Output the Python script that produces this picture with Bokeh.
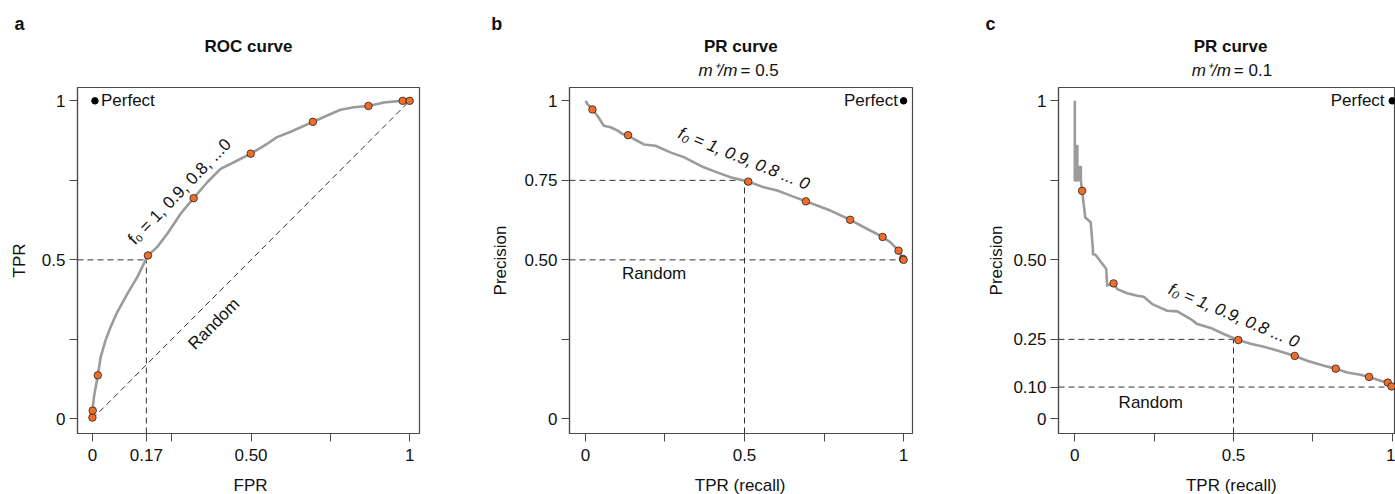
import math
from bokeh.plotting import figure
from bokeh.models import Range1d, FixedTicker, Label
from bokeh.layouts import row, column
from bokeh.embed import file_html
from bokeh.resources import INLINE

FONT = "Liberation Sans"
ORANGE = "#F26D2A"
GREY = "#9b9b9b"
FRAME = "#4a4a4a"
DASH = "#333333"
TXT = "#111111"

# ---------------- data: panel a (ROC) ----------------
roc_curve_fpr = [0.0, 0.0, 0.005, 0.017, 0.026, 0.041, 0.057, 0.078, 0.11, 0.141, 0.175,
                 0.204, 0.236, 0.278, 0.319, 0.362, 0.404, 0.446, 0.499, 0.551, 0.582,
                 0.625, 0.695, 0.74, 0.782, 0.824, 0.870, 0.919, 0.972, 0.978, 1.0]
roc_curve_tpr = [0.0, 0.026, 0.07, 0.137, 0.194, 0.246, 0.288, 0.335, 0.393, 0.445, 0.514,
                 0.54, 0.582, 0.645, 0.694, 0.744, 0.786, 0.807, 0.834, 0.865, 0.886,
                 0.903, 0.934, 0.954, 0.972, 0.98, 0.984, 0.995, 1.0, 1.0, 1.0]
roc_pts_fpr = [0.0, 0.001, 0.017, 0.175, 0.319, 0.499, 0.695, 0.870, 0.978, 1.0]
roc_pts_tpr = [0.004, 0.026, 0.137, 0.514, 0.694, 0.834, 0.934, 0.984, 1.0, 1.0]
roc_x_ticks = [0, 0.17, 0.5, 1]
roc_x_labels = ["0", "0.17", "0.50", "1"]
roc_x_minor = [0.25, 0.75]
roc_y_ticks = [0, 0.5, 1]
roc_y_labels = ["0", "0.5", "1"]
roc_y_minor = [0.25, 0.75]

# ---------------- data: panel b (PR, m+/m = 0.5) ----------------
prb_curve_rec = [0.001, 0.006, 0.012, 0.022, 0.037, 0.058, 0.079, 0.1, 0.116, 0.134, 0.152,
                 0.184, 0.22, 0.267, 0.309, 0.372, 0.414, 0.456, 0.512, 0.561, 0.603,
                 0.645, 0.693, 0.728, 0.77, 0.832, 0.886, 0.934, 0.959, 0.984, 0.998, 1.0]
prb_curve_prec = [1.0, 0.99, 0.985, 0.973, 0.954, 0.922, 0.917, 0.907, 0.896, 0.892, 0.88,
                  0.863, 0.859, 0.838, 0.823, 0.791, 0.775, 0.76, 0.746, 0.728, 0.718,
                  0.702, 0.684, 0.671, 0.655, 0.626, 0.597, 0.572, 0.555, 0.529, 0.503, 0.5]
prb_pts_rec = [0.022, 0.134, 0.512, 0.693, 0.832, 0.934, 0.984, 0.998, 1.0]
prb_pts_prec = [0.973, 0.892, 0.746, 0.684, 0.626, 0.572, 0.529, 0.503, 0.5]
prb_y_ticks = [0, 0.5, 0.75, 1]
prb_y_labels = ["0", "0.50", "0.75", "1"]
prb_y_minor = [0.25]

# ---------------- data: panel c (PR, m+/m = 0.1) ----------------
prc_curve_rec = [0.0, 0.0, 0.004, 0.004, 0.008, 0.008, 0.011, 0.011, 0.019, 0.019, 0.023,
                 0.033, 0.05, 0.057, 0.057, 0.065, 0.099, 0.102, 0.122, 0.134, 0.165,
                 0.197, 0.217, 0.244, 0.291, 0.323, 0.365, 0.386, 0.428, 0.469, 0.515,
                 0.554, 0.596, 0.648, 0.693, 0.732, 0.785, 0.822, 0.858, 0.9, 0.927,
                 0.963, 0.986, 0.998, 1.0]
prc_curve_prec = [1.0, 0.75, 0.75, 0.858, 0.858, 0.75, 0.75, 0.792, 0.792, 0.75, 0.717,
                  0.633, 0.618, 0.534, 0.518, 0.516, 0.471, 0.419, 0.426, 0.408, 0.395,
                  0.387, 0.384, 0.361, 0.34, 0.338, 0.314, 0.298, 0.286, 0.267, 0.248,
                  0.236, 0.227, 0.212, 0.198, 0.183, 0.167, 0.158, 0.146, 0.139, 0.132,
                  0.12, 0.114, 0.102, 0.1]
prc_pts_rec = [0.023, 0.122, 0.515, 0.693, 0.822, 0.927, 0.986, 0.998]
prc_pts_prec = [0.717, 0.426, 0.248, 0.198, 0.158, 0.132, 0.114, 0.102]
prc_y_ticks = [0, 0.1, 0.25, 0.5, 1]
prc_y_labels = ["0", "0.10", "0.25", "0.50", "1"]
prc_y_minor = [0.75]

pr_x_ticks = [0, 0.5, 1]
pr_x_labels = ["0", "0.5", "1"]
pr_x_minor = [0.25, 0.75]

Y_RANGE = (-0.046, 1.042)
W = 1395
TOP_H = 86          # header strip
MID_TOP, FRAME_H, MID_BOT = 1, 346, 37
MID_H = MID_TOP + FRAME_H + MID_BOT
BOT_H = 494 - TOP_H - MID_H


def lab(p, x, y, text, size="17px", style="normal", align="left",
        baseline="middle", angle=0.0):
    p.add_layout(Label(x=x, y=y, text=text, text_font=FONT, text_font_size=size,
                       text_font_style=style, text_align=align,
                       text_baseline=baseline, angle=angle, text_color=TXT))


def blank(x0, x1, y_top, y_bot):
    """A text-only strip whose data coordinates equal page pixels."""
    p = figure(frame_width=int(x1 - x0), frame_height=int(y_bot - y_top),
               x_range=Range1d(x0, x1), y_range=Range1d(y_bot, y_top),
               x_axis_type=None, y_axis_type=None, min_border=0,
               output_backend="svg", toolbar_location=None)
    p.outline_line_color = None
    p.grid.visible = False
    return p


def make_fig(xr, fw, left, right):
    p = figure(frame_width=fw, frame_height=FRAME_H,
               x_range=Range1d(*xr), y_range=Range1d(*Y_RANGE),
               min_border_left=left, min_border_right=right,
               min_border_top=MID_TOP, min_border_bottom=MID_BOT,
               output_backend="svg", toolbar_location=None)
    p.grid.visible = False
    p.outline_line_color = FRAME
    p.outline_line_width = 1.2
    return p


def style_axis(ax, ticks, labels, minor, standoff):
    ax.ticker = FixedTicker(ticks=ticks, minor_ticks=minor)
    ax.major_label_overrides = {t: l for t, l in zip(ticks, labels)}
    ax.axis_line_color = FRAME
    ax.axis_line_width = 1.2
    ax.major_tick_line_color = FRAME
    ax.minor_tick_line_color = FRAME
    ax.major_tick_out = 8
    ax.major_tick_in = 0
    ax.minor_tick_out = 8
    ax.minor_tick_in = 0
    ax.major_label_text_font = FONT
    ax.major_label_text_font_size = "17px"
    ax.major_label_text_color = TXT
    ax.major_label_standoff = standoff


def dashed(p, xs, ys):
    p.line(xs, ys, line_color=DASH, line_width=1, line_dash="6 4")


def curve(p, xs, ys, px, py):
    p.line(xs, ys, line_color=GREY, line_width=2.6, line_join="round")
    p.scatter(px, py, size=7.5, fill_color=ORANGE, line_color="#222222",
              line_width=0.8)


# ---------------- header strip ----------------
head = blank(0, W, 0, TOP_H)
lab(head, 14, 23.1, "a", size="18px", style="bold")
lab(head, 490.7, 23.1, "b", size="18px", style="bold")
lab(head, 985, 23.1, "c", size="18px", style="bold")
lab(head, 248, 46.2, "ROC curve", style="bold", align="center")
lab(head, 740.3, 46.2, "PR curve", style="bold", align="center")
lab(head, 1230, 46.2, "PR curve", style="bold", align="center")
lab(head, 737, 69.9, "m\u207a/m", style="italic", align="right")
lab(head, 740, 69.9, "= 0.5")
lab(head, 1230.3, 69.9, "m\u207a/m", style="italic", align="right")
lab(head, 1233.3, 69.9, "= 0.1")

# ---------------- footer strip ----------------
foot = blank(0, W, 494 - BOT_H, 494)
lab(foot, 250, 485, "FPR", align="center")
lab(foot, 739.7, 485, "TPR (recall)", align="center")
lab(foot, 1230.8, 485, "TPR (recall)", align="center")

# ---------------- y-axis title strips ----------------
mid_top = TOP_H
mid_bot = TOP_H + MID_H
la = blank(0, 30, mid_top, mid_bot)
lab(la, 18.9, 259, "TPR", align="center", angle=math.pi / 2)
lb = blank(488, 512, mid_top, mid_bot)
lab(lb, 499.9, 259, "Precision", align="center", angle=math.pi / 2)
lc = blank(982, 1008, mid_top, mid_bot)
lab(lc, 995.6, 259, "Precision", align="center", angle=math.pi / 2)

# ---------------- panel a ----------------  (page 30..488)
xa = (-0.047, 1.031)
pa = make_fig(xa, 342, 47, 69)
style_axis(pa.xaxis[0], roc_x_ticks, roc_x_labels, roc_x_minor, 7)
style_axis(pa.yaxis[0], roc_y_ticks, roc_y_labels, roc_y_minor, 4)
dashed(pa, [0, 1], [0, 1])
dashed(pa, [xa[0], 0.17], [0.5, 0.5])
dashed(pa, [0.17, 0.17], [Y_RANGE[0], 0.5])
curve(pa, roc_curve_fpr, roc_curve_tpr, roc_pts_fpr, roc_pts_tpr)
pa.scatter([0.008], [1.0], size=6.5, fill_color="black", line_color="black")
lab(pa, 0.027, 1.0, "Perfect")
lab(pa, 0.383, 0.299, "Random", align="center", angle=math.pi / 4)
lab(pa, 0.275, 0.715, "f\u2080 = 1, 0.9, 0.8, ...0", align="center",
    angle=math.radians(46))

# ---------------- panel b ----------------  (page 512..982)
xb = (-0.05, 1.028)
pb = make_fig(xb, 343, 57, 70)
style_axis(pb.xaxis[0], pr_x_ticks, pr_x_labels, pr_x_minor, 7)
style_axis(pb.yaxis[0], prb_y_ticks, prb_y_labels, prb_y_minor, 4)
dashed(pb, [xb[0], 0.5], [0.75, 0.75])
dashed(pb, [0.5, 0.5], [Y_RANGE[0], 0.75])
dashed(pb, [xb[0], 1.0], [0.5, 0.5])
curve(pb, prb_curve_rec, prb_curve_prec, prb_pts_rec, prb_pts_prec)
pb.scatter([1.0], [1.0], size=6.5, fill_color="black", line_color="black")
lab(pb, 0.982, 1.0, "Perfect", align="right")
lab(pb, 0.115, 0.457, "Random")
lab(pb, 0.498, 0.818, "f\u2080 = 1, 0.9, 0.8 ... 0", style="italic", align="center",
    angle=math.radians(-22))

# ---------------- panel c ----------------  (page 1008..1395)
xc = (-0.0514, 1.0104)
pc = make_fig(xc, 337, 50, 0)
style_axis(pc.xaxis[0], pr_x_ticks, pr_x_labels, pr_x_minor, 7)
style_axis(pc.yaxis[0], prc_y_ticks, prc_y_labels, prc_y_minor, 4)
dashed(pc, [xc[0], 0.5], [0.25, 0.25])
dashed(pc, [0.5, 0.5], [Y_RANGE[0], 0.25])
dashed(pc, [xc[0], 1.0], [0.1, 0.1])
curve(pc, prc_curve_rec, prc_curve_prec, prc_pts_rec, prc_pts_prec)
pc.scatter([1.0], [1.0], size=6.5, fill_color="black", line_color="black")
lab(pc, 0.976, 1.0, "Perfect", align="right")
lab(pc, 0.138, 0.051, "Random")
lab(pc, 0.501, 0.325, "f\u2080 = 1, 0.9, 0.8 ... 0", style="italic", align="center",
    angle=math.radians(-23))

layout = column(head, row(la, pa, lb, pb, lc, pc), foot)
open("out.html", "w").write(file_html(layout, INLINE))
